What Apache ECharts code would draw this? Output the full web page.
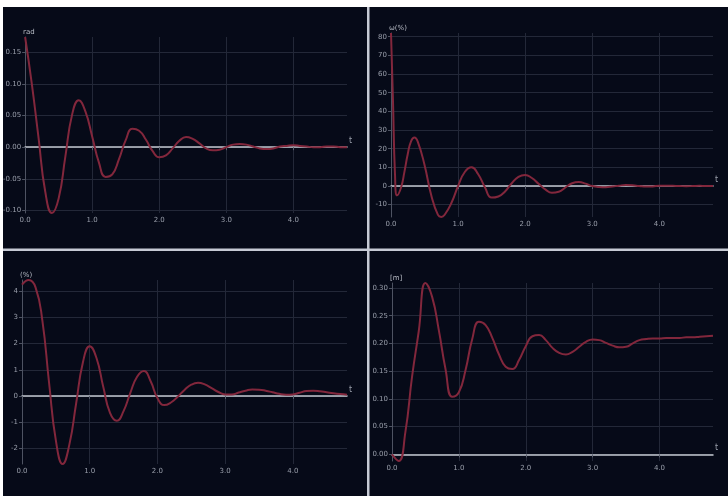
<!DOCTYPE html>
<html>
<head>
<meta charset="utf-8">
<script src="https://cdn.jsdelivr.net/npm/echarts@6/dist/echarts.min.js"></script>
<style>
  html, body { margin: 0; padding: 0; background: #ffffff; }
  #chart { width: 728px; height: 496px; }
</style>
</head>
<body>
<div id="chart"></div>
<script>
// Sample times (s) shared by the angle, acceleration and position traces
const time = [0.0, 0.1, 0.2, 0.3, 0.4, 0.5, 0.6, 0.7, 0.8, 0.9,
  1.0, 1.1, 1.2, 1.3, 1.4, 1.5, 1.6, 1.7, 1.8, 1.9,
  2.0, 2.1, 2.2, 2.3, 2.4, 2.5, 2.6, 2.7, 2.8, 2.9,
  3.0, 3.1, 3.2, 3.3, 3.4, 3.5, 3.6, 3.7, 3.8, 3.9,
  4.0, 4.1, 4.2, 4.3, 4.4, 4.5, 4.6, 4.7, 4.8];

// Angle (rad)
const angle = [0.174, 0.100, 0.015, -0.070, -0.104, -0.081, -0.015, 0.051, 0.074, 0.056,
  0.017, -0.024, -0.047, -0.043, -0.019, 0.011, 0.029, 0.026, 0.012, -0.006,
  -0.016, -0.013, -0.002, 0.010, 0.016, 0.013, 0.006, -0.002, -0.005, -0.004,
  0.000, 0.004, 0.005, 0.004, 0.001, -0.002, -0.003, -0.002, 0.001, 0.002,
  0.003, 0.002, 0.001, 0.000, 0.000, 0.001, 0.001, 0.000, 0.000];

// Speed trace has a sharp initial drop, so it is sampled more densely at the start
const time2 = [0.0, 0.03, 0.06, 0.09, 0.15, 0.2, 0.25, 0.3, 0.35, 0.4,
  0.5, 0.6, 0.7, 0.75, 0.8, 0.9, 1.0, 1.1, 1.2, 1.3,
  1.4, 1.5, 1.6, 1.7, 1.8, 1.9, 2.0, 2.1, 2.2, 2.3,
  2.4, 2.5, 2.6, 2.7, 2.8, 2.9, 3.0, 3.1, 3.2, 3.3,
  3.4, 3.5, 3.6, 3.7, 3.8, 3.9, 4.0, 4.1, 4.2, 4.3,
  4.4, 4.5, 4.6, 4.7, 4.8];
const speed = [82, 45, 6, -5, -0.8, 7.6, 17.2, 24.1, 26, 23.7,
  11.3, -4.9, -15.5, -16.6, -15.4, -9.1, 0.0, 7.5, 10, 6.3,
  -0.7, -6.2, -5.6, -2.9, 1.5, 4.9, 5.9, 4.3, 1.2, -1.8,
  -3.6, -3.1, -0.8, 1.5, 2.1, 1.3, 0.0, -0.5, -0.6, -0.3,
  0.2, 0.5, 0.4, 0.0, -0.3, -0.2, 0.1, 0.2, 0.1, 0.0,
  -0.1, 0.0, 0.1, 0.0, 0.0];

// Acceleration
const accel = [4.25, 4.43, 4.15, 2.9, 0.5, -1.7, -2.6, -1.85, -0.28, 1.29,
  1.9, 1.45, 0.35, -0.65, -0.95, -0.58, 0.12, 0.73, 0.95, 0.56,
  -0.08, -0.35, -0.25, -0.03, 0.23, 0.43, 0.5, 0.44, 0.3, 0.15,
  0.06, 0.06, 0.13, 0.2, 0.25, 0.24, 0.2, 0.14, 0.08, 0.05,
  0.06, 0.12, 0.19, 0.2, 0.18, 0.14, 0.1, 0.07, 0.05];

// Position
const position = [0.000, -0.012, 0.040, 0.140, 0.222, 0.309, 0.284, 0.224, 0.154, 0.104,
  0.112, 0.152, 0.208, 0.239, 0.233, 0.210, 0.180, 0.158, 0.154, 0.170,
  0.195, 0.213, 0.215, 0.206, 0.192, 0.183, 0.180, 0.185, 0.194, 0.203,
  0.207, 0.206, 0.201, 0.196, 0.193, 0.194, 0.200, 0.206, 0.208, 0.209,
  0.209, 0.210, 0.210, 0.210, 0.211, 0.211, 0.212, 0.213, 0.214];

// Axis titles
const yNames = ['rad', 'ω(%)', '(%)', '[m]'];
const xName = 't';

const BG = '#060a18';
const GRID_LINE = '#232838';
const LABEL = '#9a9fab';
const CURVE = '#82273c';

const grids = [
  { left: 22, top: 37, width: 325, height: 176 },
  { left: 391, top: 33, width: 322, height: 184 },
  { left: 22, top: 280, width: 325, height: 184 },
  { left: 392, top: 283, width: 321, height: 178 }
];

const yFormat = [
  v => v.toFixed(2),
  v => String(Math.round(v)),
  v => String(Math.round(v)),
  v => v.toFixed(2)
];
const ySplit = [5, 10, 5, 5];

function xAxisFor(i) {
  return {
    type: 'value', gridIndex: i, min: 0, max: 4.8, interval: 1,
    name: xName, nameLocation: 'end', nameGap: 2,
    nameTextStyle: { color: LABEL, fontSize: 8, verticalAlign: 'bottom', padding: [0, 0, 2, 0] },
    axisLine: { onZero: true, lineStyle: { color: '#c4c8d0', width: 1.5 } },
    axisTick: { show: true, length: 3, lineStyle: { color: '#5a5f6e' } },
    axisLabel: { color: LABEL, fontSize: 7, margin: 4, showMaxLabel: false,
      formatter: v => v.toFixed(1) },
    splitLine: { show: true, showMaxLine: false, lineStyle: { color: GRID_LINE, width: 1 } }
  };
}

function yAxisFor(i) {
  return {
    type: 'value', gridIndex: i, min: 'dataMin', max: 'dataMax', splitNumber: ySplit[i],
    name: yNames[i], nameLocation: 'end', nameGap: 1,
    nameTextStyle: { color: '#b8bcc6', fontSize: 7, align: 'left', verticalAlign: 'bottom',
      padding: [0, 0, 0, -2] },
    axisLine: { show: true, lineStyle: { color: '#4e5362', width: 1 } },
    axisTick: { show: true, length: 3, lineStyle: { color: '#4e5362' } },
    axisLabel: { color: LABEL, fontSize: 7, margin: 4, showMinLabel: false, showMaxLabel: false,
      formatter: yFormat[i] },
    splitLine: { show: true, showMinLine: false, showMaxLine: false,
      lineStyle: { color: GRID_LINE, width: 1 } }
  };
}

const traces = [
  time.map((t, k) => [t, angle[k]]),
  time2.map((t, k) => [t, speed[k]]),
  time.map((t, k) => [t, accel[k]]),
  time.map((t, k) => [t, position[k]])
];

const chart = echarts.init(document.getElementById('chart'), null, { renderer: 'canvas' });
chart.setOption({
  backgroundColor: BG,
  animation: false,
  textStyle: { fontFamily: 'DejaVu Sans' },
  grid: grids,
  xAxis: grids.map((g, i) => xAxisFor(i)),
  yAxis: grids.map((g, i) => yAxisFor(i)),
  series: traces.map((d, i) => ({
    type: 'line', xAxisIndex: i, yAxisIndex: i, data: d,
    smooth: true, showSymbol: false,
    lineStyle: { color: CURVE, width: 2 },
    z: 3
  })),
  graphic: [
    // frame strips and panel dividers
    { type: 'rect', shape: { x: 0, y: 0, width: 728, height: 7 }, style: { fill: '#ffffff' }, z: 100 },
    { type: 'rect', shape: { x: 0, y: 0, width: 3, height: 496 }, style: { fill: '#ffffff' }, z: 100 },
    { type: 'rect', shape: { x: 367, y: 7, width: 2.5, height: 489 }, style: { fill: '#c6cad4' }, z: 100 },
    { type: 'rect', shape: { x: 3, y: 248.5, width: 725, height: 2.5 }, style: { fill: '#c6cad4' }, z: 100 }
  ]
});
</script>
</body>
</html>
